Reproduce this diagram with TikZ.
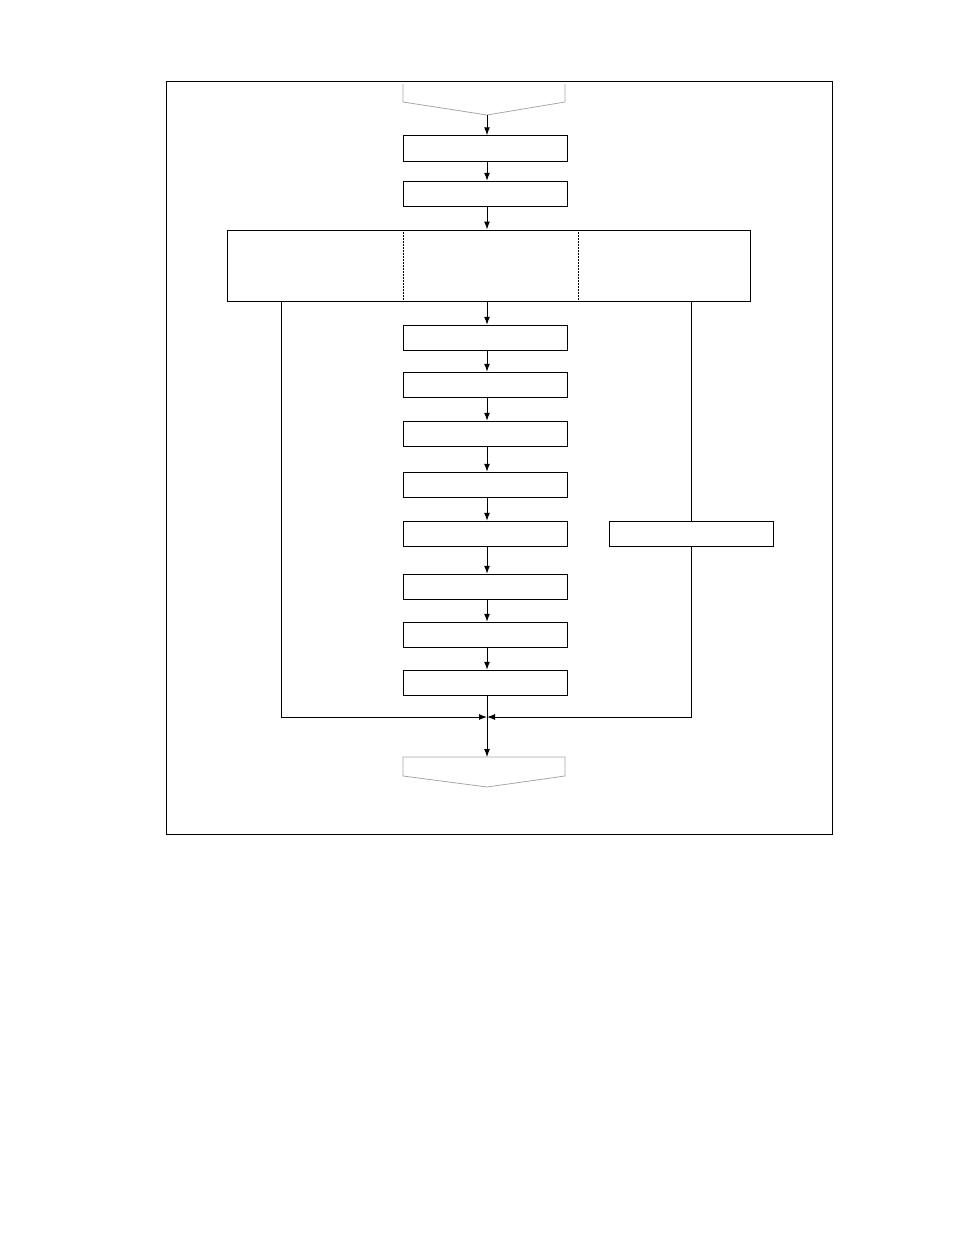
\documentclass[tikz,border=0pt]{standalone}
\usetikzlibrary{arrows.meta}
\tikzset{
  box/.style={draw,line width=1pt,minimum width=164pt,minimum height=25.5pt,inner sep=0pt},
  arr/.style={line width=1pt,-{Latex[length=8pt,width=6pt]}},
  conn/.style={draw=gray!70,line width=0.8pt}
}
\begin{document}
\begin{tikzpicture}[x=1pt,y=-1pt]
\useasboundingbox (0,0) rectangle (954,1235);
\draw[line width=1pt] (166,81) rectangle (832,834);
% connector in
\draw[conn] (403,84)--(403,102)--(487,115)--(565,102)--(565,84);
\coordinate (in) at (487,115);
% main column
\node[box] (b1) at (485,148.5) {};
\node[box] (b2) at (485,194) {};
\node[draw,line width=1pt,minimum width=523pt,minimum height=71pt,inner sep=0pt] (big) at (488.5,265.5) {};
\draw[densely dotted,line width=0.5pt] (403,230)--(403,301);
\draw[densely dotted,line width=0.5pt] (578,230)--(578,301);
\node[box] (b3) at (485,338) {};
\node[box] (b4) at (485,385) {};
\node[box] (b5) at (485,434) {};
\node[box] (b6) at (485,485) {};
\node[box] (b7) at (485,534) {};
\node[box] (side) at (691,534) {};
\node[box] (b8) at (485,587) {};
\node[box] (b9) at (485,635) {};
\node[box] (b10) at (485,683) {};
% connector out
\draw[conn] (403,757)--(565,757)--(565,776)--(487,787)--(403,776)--cycle;
\coordinate (out) at (487,757);
\coordinate (join) at (487,717);
\coordinate (lft) at (281,301);
\coordinate (rgt) at (691,301);
% arrows
\draw[arr] (in) -- (b1.north -| in);
\draw[arr] (b1.south -| in) -- (b2.north -| in);
\draw[arr] (b2.south -| in) -- (big.north -| in);
\draw[arr] (big.south -| in) -- (b3.north -| in);
\foreach \a/\b in {b3/b4,b4/b5,b5/b6,b6/b7,b7/b8,b8/b9,b9/b10}
  \draw[arr] (\a.south -| in) -- (\b.north -| in);
\draw[arr] (b10.south -| in) -- (out);
\draw[arr] (lft) |- (join);
\draw[line width=1pt] (rgt) -- (side.north);
\draw[arr] (side.south) |- (join);
\end{tikzpicture}
\end{document}
